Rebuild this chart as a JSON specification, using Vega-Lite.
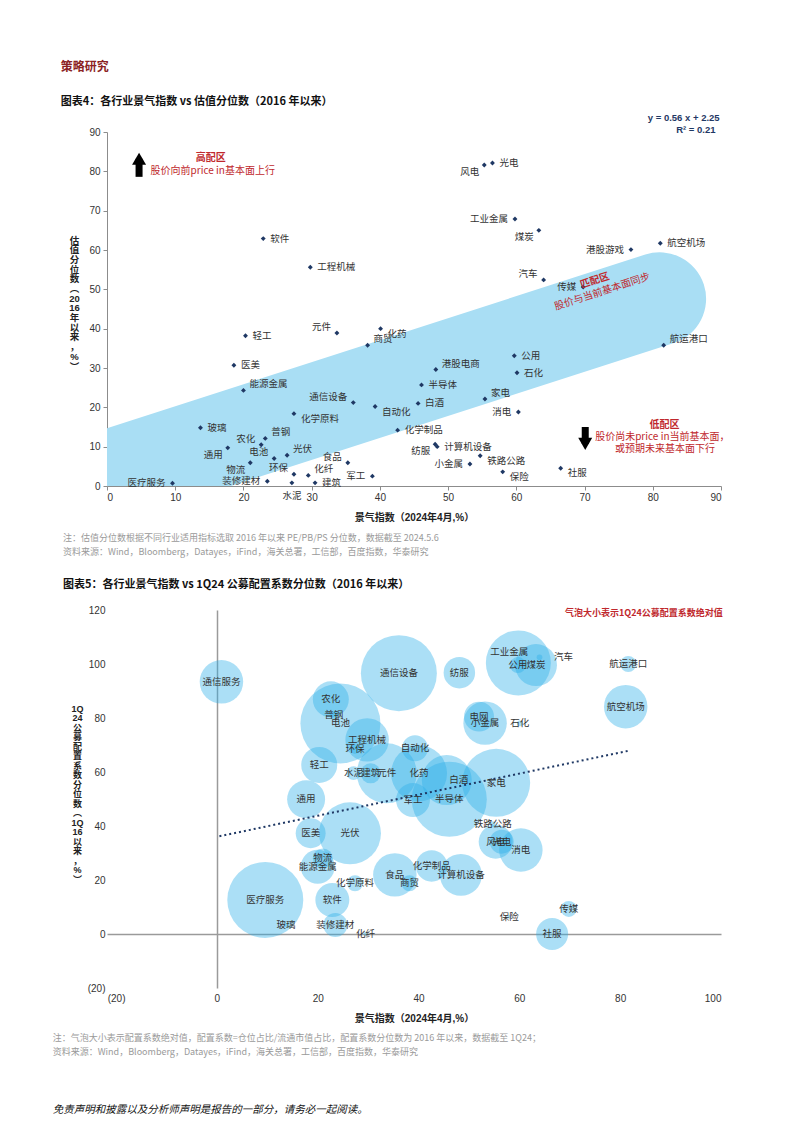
{
  "$schema": "https://vega.github.io/schema/vega-lite/v6.json",
  "padding": {"left": 52, "top": 60, "right": 20, "bottom": 5},
  "background": "white",
  "spacing": 12,
  "config": {
    "font": "Liberation Sans, Noto Sans CJK SC, sans-serif",
    "view": {"stroke": null},
    "axis": {"grid": false, "labelFont": "Liberation Sans, Noto Sans CJK SC", "labelFontSize": 10, "labelColor": "#333333", "titleFont": "Liberation Sans, Noto Sans CJK SC", "titleFontSize": 10, "titleFontWeight": "bold", "titleColor": "#222222", "domainColor": "#8c8c8c", "tickColor": "#8c8c8c"},
    "text": {"font": "Noto Sans CJK SC", "fontSize": 9.5, "color": "#333333"}
  },
  "title": {
    "text": ["注：气泡大小表示配置系数绝对值，配置系数=仓位占比/流通市值占比，配置系数分位数为 2016 年以来，数据截至 1Q24；", "资料来源：Wind，Bloomberg，Datayes，iFind，海关总署，工信部，百度指数，华泰研究"],
    "subtitle": "免责声明和披露以及分析师声明是报告的一部分，请务必一起阅读。",
    "orient": "bottom", "anchor": "start", "frame": "bounds", "dx": -8, "offset": 11,
    "font": "Noto Sans CJK SC", "fontSize": 9, "fontWeight": "normal", "color": "#9a9a9a", "lineHeight": 14,
    "subtitleFont": "Noto Sans CJK SC", "subtitleFontSize": 10.5, "subtitleFontStyle": "italic", "subtitleColor": "#111111", "subtitlePadding": 48
  },
  "datasets": {
    "ind": [
      {"name":"软件","jq":22.9,"gz":62.9,"pz":12.6,"coef":0.72},
      {"name":"工程机械","jq":29.8,"gz":55.6,"pz":71.9,"coef":1.18},
      {"name":"风电","jq":55.3,"gz":81.6,"pz":34.2,"coef":0.72},
      {"name":"光电","jq":56.5,"gz":82.1,"pz":34.2,"coef":0.36},
      {"name":"工业金属","jq":59.8,"gz":67.9,"pz":100.4,"coef":2.64},
      {"name":"煤炭","jq":63.3,"gz":65.0,"pz":99.6,"coef":1.1},
      {"name":"港股游戏","jq":76.8,"gz":60.1,"pz":null,"coef":null},
      {"name":"航空机场","jq":81.1,"gz":61.7,"pz":84.2,"coef":1.18},
      {"name":"汽车","jq":64.0,"gz":52.4,"pz":102.5,"coef":0.02},
      {"name":"传媒","jq":69.8,"gz":50.6,"pz":9.3,"coef":0.16},
      {"name":"航运港口","jq":81.6,"gz":35.8,"pz":100.0,"coef":0.16},
      {"name":"公用","jq":59.7,"gz":33.1,"pz":99.6,"coef":0.16},
      {"name":"轻工","jq":20.3,"gz":38.2,"pz":62.6,"coef":0.81},
      {"name":"元件","jq":33.7,"gz":38.9,"pz":59.5,"coef":2.25},
      {"name":"化药","jq":40.1,"gz":40.0,"pz":59.5,"coef":1.96},
      {"name":"商贸","jq":38.2,"gz":35.8,"pz":18.8,"coef":0.16},
      {"name":"医美","jq":18.6,"gz":30.7,"pz":37.3,"coef":0.56},
      {"name":"能源金属","jq":20.0,"gz":24.3,"pz":24.9,"coef":0.72},
      {"name":"通信设备","jq":36.1,"gz":21.2,"pz":96.6,"coef":3.61},
      {"name":"自动化","jq":39.3,"gz":20.2,"pz":68.8,"coef":0.42},
      {"name":"化学原料","jq":27.4,"gz":18.4,"pz":18.8,"coef":0.16},
      {"name":"玻璃","jq":13.7,"gz":14.8,"pz":3.3,"coef":0.01},
      {"name":"农化","jq":22.6,"gz":10.5,"pz":86.9,"coef":0.81},
      {"name":"普钢","jq":23.2,"gz":12.1,"pz":81.1,"coef":0.04},
      {"name":"通用","jq":17.7,"gz":9.7,"pz":49.9,"coef":0.9},
      {"name":"电池","jq":24.5,"gz":7.0,"pz":78.0,"coef":4.0},
      {"name":"光伏","jq":26.4,"gz":7.8,"pz":37.3,"coef":2.4},
      {"name":"物流","jq":21.0,"gz":5.9,"pz":28.0,"coef":0.25},
      {"name":"环保","jq":27.4,"gz":3.0,"pz":68.5,"coef":0.06},
      {"name":"化纤","jq":29.5,"gz":2.7,"pz":0.0,"coef":0.01},
      {"name":"食品","jq":35.3,"gz":5.9,"pz":21.9,"coef":1.18},
      {"name":"军工","jq":38.9,"gz":2.5,"pz":49.6,"coef":0.72},
      {"name":"医疗服务","jq":9.6,"gz":0.7,"pz":12.6,"coef":3.61},
      {"name":"装修建材","jq":23.5,"gz":1.2,"pz":3.3,"coef":0.36},
      {"name":"水泥","jq":27.1,"gz":0.8,"pz":59.6,"coef":0.12},
      {"name":"建筑","jq":30.5,"gz":0.8,"pz":59.5,"coef":0.25},
      {"name":"化学制品","jq":42.6,"gz":14.2,"pz":25.2,"coef":0.62},
      {"name":"港股电商","jq":48.2,"gz":29.6,"pz":null,"coef":null},
      {"name":"石化","jq":60.1,"gz":28.8,"pz":78.0,"coef":0.02},
      {"name":"半导体","jq":46.1,"gz":25.7,"pz":49.9,"coef":3.52},
      {"name":"白酒","jq":45.6,"gz":21.0,"pz":57.0,"coef":1.56},
      {"name":"家电","jq":55.4,"gz":22.1,"pz":56.0,"coef":2.89},
      {"name":"消电","jq":60.3,"gz":18.8,"pz":31.1,"coef":1.18},
      {"name":"纺服","jq":48.1,"gz":10.6,"pz":96.8,"coef":0.62},
      {"name":"计算机设备","jq":48.4,"gz":10.0,"pz":21.9,"coef":1.1},
      {"name":"铁路公路","jq":54.7,"gz":7.7,"pz":40.7,"coef":0.02},
      {"name":"小金属","jq":53.2,"gz":5.6,"pz":78.1,"coef":1.18},
      {"name":"保险","jq":58.0,"gz":3.6,"pz":6.4,"coef":0.01},
      {"name":"社服","jq":66.5,"gz":4.5,"pz":0.0,"coef":0.64},
      {"name":"通信服务","jq":0.9,"gz":null,"pz":93.4,"coef":1.18},
      {"name":"电网","jq":52.0,"gz":null,"pz":80.5,"coef":0.56}
    ]
  },
  "vconcat": [
    {
      "width": 614,
      "height": 354,
      "title": {
        "text": "策略研究",
        "subtitle": "图表4：各行业景气指数 vs 估值分位数（2016 年以来）",
        "anchor": "start", "frame": "bounds", "dx": -8, "offset": 5,
        "font": "Noto Sans CJK SC", "fontSize": 12, "fontWeight": "bold", "color": "#8B2323",
        "subtitleFont": "Noto Sans CJK SC", "subtitleFontSize": 11, "subtitleFontWeight": "bold", "subtitleColor": "#111111", "subtitlePadding": 22
      },
      "data": {"name": "ind"},
      "encoding": {
        "x": {"field": "jq", "type": "quantitative", "scale": {"domain": [0, 90], "nice": false},
              "axis": {"values": [0,10,20,30,40,50,60,70,80,90], "title": "景气指数（2024年4月,%）", "tickSize": 4, "labelPadding": 2, "titlePadding": 10}},
        "y": {"field": "gz", "type": "quantitative", "scale": {"domain": [0, 90], "nice": false},
              "axis": {"values": [0,10,20,30,40,50,60,70,80,90], "title": ["估","值","分","位","数","︵","20","16","年","以","来","，","%","︶"], "titleAngle": 0, "titleAlign": "center", "titleBaseline": "middle", "titleX": -33, "titleY": 108, "titleLineHeight": 9.7, "titleFontSize": 9.5, "tickSize": 4, "labelPadding": 3}}
      },
      "layer": [
        {
          "data": {"values": [{"jq": 0, "gz": 2.25}, {"jq": 81, "gz": 47.6}]},
          "mark": {"type": "line", "strokeWidth": 93, "strokeCap": "round", "color": "#A9DEF4", "clip": true}
        },
        {
          "data": {"values": [{"dir": "up", "jq": 4.7, "gz": 78.6, "gz2": 83.2}, {"dir": "down", "jq": 70.1, "gz": 15.0, "gz2": 10.7}]},
          "mark": {"type": "rule", "strokeWidth": 7, "color": "#000000"},
          "encoding": {"y2": {"field": "gz2"}}
        },
        {
          "data": {"values": [{"dir": "up", "jq": 4.7, "gz": 78.6, "gz2": 83.2}, {"dir": "down", "jq": 70.1, "gz": 15.0, "gz2": 10.7}]},
          "transform": [{"filter": "datum.dir == 'up'"}],
          "mark": {"type": "point", "shape": "triangle-up", "filled": true, "size": 196, "color": "#000000", "opacity": 1},
          "encoding": {"y": {"field": "gz2", "type": "quantitative"}}
        },
        {
          "data": {"values": [{"dir": "up", "jq": 4.7, "gz": 78.6, "gz2": 83.2}, {"dir": "down", "jq": 70.1, "gz": 15.0, "gz2": 10.7}]},
          "transform": [{"filter": "datum.dir == 'down'"}],
          "mark": {"type": "point", "shape": "triangle-down", "filled": true, "size": 196, "color": "#000000", "opacity": 1},
          "encoding": {"y": {"field": "gz2", "type": "quantitative"}}
        },
        {
          "transform": [{"filter": "isValid(datum.gz)"}],
          "mark": {"type": "point", "shape": "diamond", "filled": true, "size": 24, "color": "#1F3864", "opacity": 1}
        },
        {
          "transform": [{"filter": {"field": "name", "oneOf": ["软件","工程机械","光电","航空机场","公用","石化","轻工","医美","玻璃","化学制品","半导体","白酒","计算机设备","建筑"]}}],
          "mark": {"type": "text", "align": "left", "baseline": "middle", "dx": 7},
          "encoding": {"text": {"field": "name"}}
        },
        {
          "transform": [{"filter": {"field": "name", "oneOf": ["航运港口","商贸","能源金属","普钢","光伏","化纤","港股电商","家电"]}}],
          "mark": {"type": "text", "align": "left", "baseline": "middle", "dx": 6, "dy": -6},
          "encoding": {"text": {"field": "name"}}
        },
        {
          "transform": [{"filter": {"field": "name", "oneOf": ["化药","自动化","化学原料","保险","社服","铁路公路"]}}],
          "mark": {"type": "text", "align": "left", "baseline": "middle", "dx": 7, "dy": 5},
          "encoding": {"text": {"field": "name"}}
        },
        {
          "transform": [{"filter": {"field": "name", "oneOf": ["港股游戏","传媒","工业金属","消电","装修建材","小金属","医疗服务","军工"]}}],
          "mark": {"type": "text", "align": "right", "baseline": "middle", "dx": -7},
          "encoding": {"text": {"field": "name"}}
        },
        {
          "transform": [{"filter": {"field": "name", "oneOf": ["汽车","元件","农化","电池","食品","通信设备","环保"]}}],
          "mark": {"type": "text", "align": "right", "baseline": "middle", "dx": -6, "dy": -6},
          "encoding": {"text": {"field": "name"}}
        },
        {
          "transform": [{"filter": {"field": "name", "oneOf": ["风电","煤炭","通用","物流","纺服"]}}],
          "mark": {"type": "text", "align": "right", "baseline": "middle", "dx": -5, "dy": 7},
          "encoding": {"text": {"field": "name"}}
        },
        {
          "transform": [{"filter": {"field": "name", "oneOf": ["水泥"]}}],
          "mark": {"type": "text", "align": "center", "baseline": "middle", "dy": 13},
          "encoding": {"text": {"field": "name"}}
        },
        {
          "data": {"values": [{"t": "高配区", "jq": 15.2, "gz": 83.3}, {"t": "低配区", "jq": 81.7, "gz": 15.4}]},
          "mark": {"type": "text", "align": "center", "baseline": "middle", "fontWeight": "bold", "fontSize": 10, "color": "#C0282D"},
          "encoding": {"text": {"field": "t"}}
        },
        {
          "data": {"values": [{"t": "股价向前price in基本面上行", "jq": 15.5, "gz": 80.2}, {"t": "股价尚未price in当前基本面，", "jq": 81.4, "gz": 12.4}, {"t": "或预期未来基本面下行", "jq": 81.8, "gz": 9.4}]},
          "mark": {"type": "text", "align": "center", "baseline": "middle", "fontSize": 10, "color": "#C0282D"},
          "encoding": {"text": {"field": "t"}}
        },
        {
          "data": {"values": [{"t": "匹配区", "jq": 71.5, "gz": 52.2}]},
          "mark": {"type": "text", "align": "center", "baseline": "middle", "fontWeight": "bold", "fontSize": 10, "angle": 342, "color": "#C0282D"},
          "encoding": {"text": {"field": "t"}}
        },
        {
          "data": {"values": [{"t": "股价与当前基本面同步", "jq": 72.6, "gz": 49.4}]},
          "mark": {"type": "text", "align": "center", "baseline": "middle", "fontSize": 10, "angle": 342, "color": "#C0282D"},
          "encoding": {"text": {"field": "t"}}
        },
        {
          "data": {"values": [{"t": "y = 0.56 x + 2.25", "jq": 89.8, "gz": 93.6}, {"t": "R² = 0.21", "jq": 89.2, "gz": 90.6}]},
          "mark": {"type": "text", "align": "right", "baseline": "middle", "font": "Liberation Sans", "fontWeight": "bold", "fontSize": 9.5, "color": "#1F3864"},
          "encoding": {"text": {"field": "t"}}
        }
      ]
    },
    {
      "width": 614,
      "height": 378,
      "title": {
        "text": ["注：估值分位数根据不同行业适用指标选取 2016 年以来 PE/PB/PS 分位数，数据截至 2024.5.6", "资料来源：Wind，Bloomberg，Datayes，iFind，海关总署，工信部，百度指数，华泰研究"],
        "subtitle": "图表5：各行业景气指数 vs 1Q24 公募配置系数分位数（2016 年以来）",
        "anchor": "start", "frame": "bounds", "dx": -8, "offset": 15,
        "font": "Noto Sans CJK SC", "fontSize": 9, "fontWeight": "normal", "color": "#9a9a9a", "lineHeight": 14,
        "subtitleFont": "Noto Sans CJK SC", "subtitleFontSize": 11, "subtitleFontWeight": "bold", "subtitleColor": "#111111", "subtitlePadding": 22
      },
      "data": {"name": "ind"},
      "encoding": {
        "x": {"field": "jq", "type": "quantitative", "scale": {"domain": [-21.8, 100], "nice": false, "zero": false},
              "axis": {"values": [-20,0,20,40,60,80,100], "labelExpr": "datum.value < 0 ? '(' + abs(datum.value) + ')' : datum.label", "domain": false, "ticks": false, "labelPadding": 5, "title": "景气指数（2024年4月,%）", "titlePadding": 10,
                       "grid": true, "gridColor": "#9a9a9a", "gridWidth": 1.5, "gridOpacity": {"condition": {"test": "datum.value === 0", "value": 1}, "value": 0}}},
        "y": {"field": "pz", "type": "quantitative", "scale": {"domain": [-20, 120], "nice": false},
              "axis": {"values": [-20,0,20,40,60,80,100,120], "labelExpr": "datum.value < 0 ? '(' + abs(datum.value) + ')' : datum.label", "domain": false, "ticks": false, "labelPadding": 2, "title": ["1Q","24","公","募","配","置","系","数","分","位","数","︵","1Q","16","以","来","，","%","︶"], "titleAngle": 0, "titleAlign": "center", "titleBaseline": "middle", "titleX": -30, "titleY": 98, "titleLineHeight": 9.5, "titleFontSize": 9,
                       "grid": true, "gridColor": "#9a9a9a", "gridWidth": 1.5, "gridOpacity": {"condition": {"test": "datum.value === 0", "value": 1}, "value": 0}}}
      },
      "layer": [
        {
          "transform": [{"filter": "isValid(datum.pz)"}],
          "mark": {"type": "circle", "color": "#2DB0E8", "opacity": 0.4},
          "encoding": {"size": {"field": "coef", "type": "quantitative", "scale": {"domain": [0, 4], "range": [0, 6400]}, "legend": null}}
        },
        {
          "data": {"values": [{"jq": 0.5, "pz": 36.2}, {"jq": 81.5, "pz": 67.8}]},
          "mark": {"type": "line", "color": "#1F3864", "strokeWidth": 2, "strokeDash": [2, 3]}
        },
        {
          "transform": [{"filter": "isValid(datum.pz)"}, {"filter": {"not": {"field": "name", "oneOf": ["工业金属","汽车","白酒"]}}}],
          "mark": {"type": "text", "align": "center", "baseline": "middle"},
          "encoding": {"text": {"field": "name"}}
        },
        {
          "transform": [{"filter": {"field": "name", "oneOf": ["工业金属"]}}],
          "mark": {"type": "text", "align": "center", "baseline": "middle", "dx": -9, "dy": -11},
          "encoding": {"text": {"field": "name"}}
        },
        {
          "transform": [{"filter": {"field": "name", "oneOf": ["汽车"]}}],
          "mark": {"type": "text", "align": "center", "baseline": "middle", "dx": 24},
          "encoding": {"text": {"field": "name"}}
        },
        {
          "transform": [{"filter": {"field": "name", "oneOf": ["白酒"]}}],
          "mark": {"type": "text", "align": "center", "baseline": "middle", "dx": 12},
          "encoding": {"text": {"field": "name"}}
        },
        {
          "data": {"values": [{"t": "气泡大小表示1Q24公募配置系数绝对值", "jq": 84.7, "pz": 118.9}]},
          "mark": {"type": "text", "align": "center", "baseline": "middle", "fontWeight": "bold", "fontSize": 9, "color": "#C0282D"},
          "encoding": {"text": {"field": "t"}}
        }
      ]
    }
  ]
}
